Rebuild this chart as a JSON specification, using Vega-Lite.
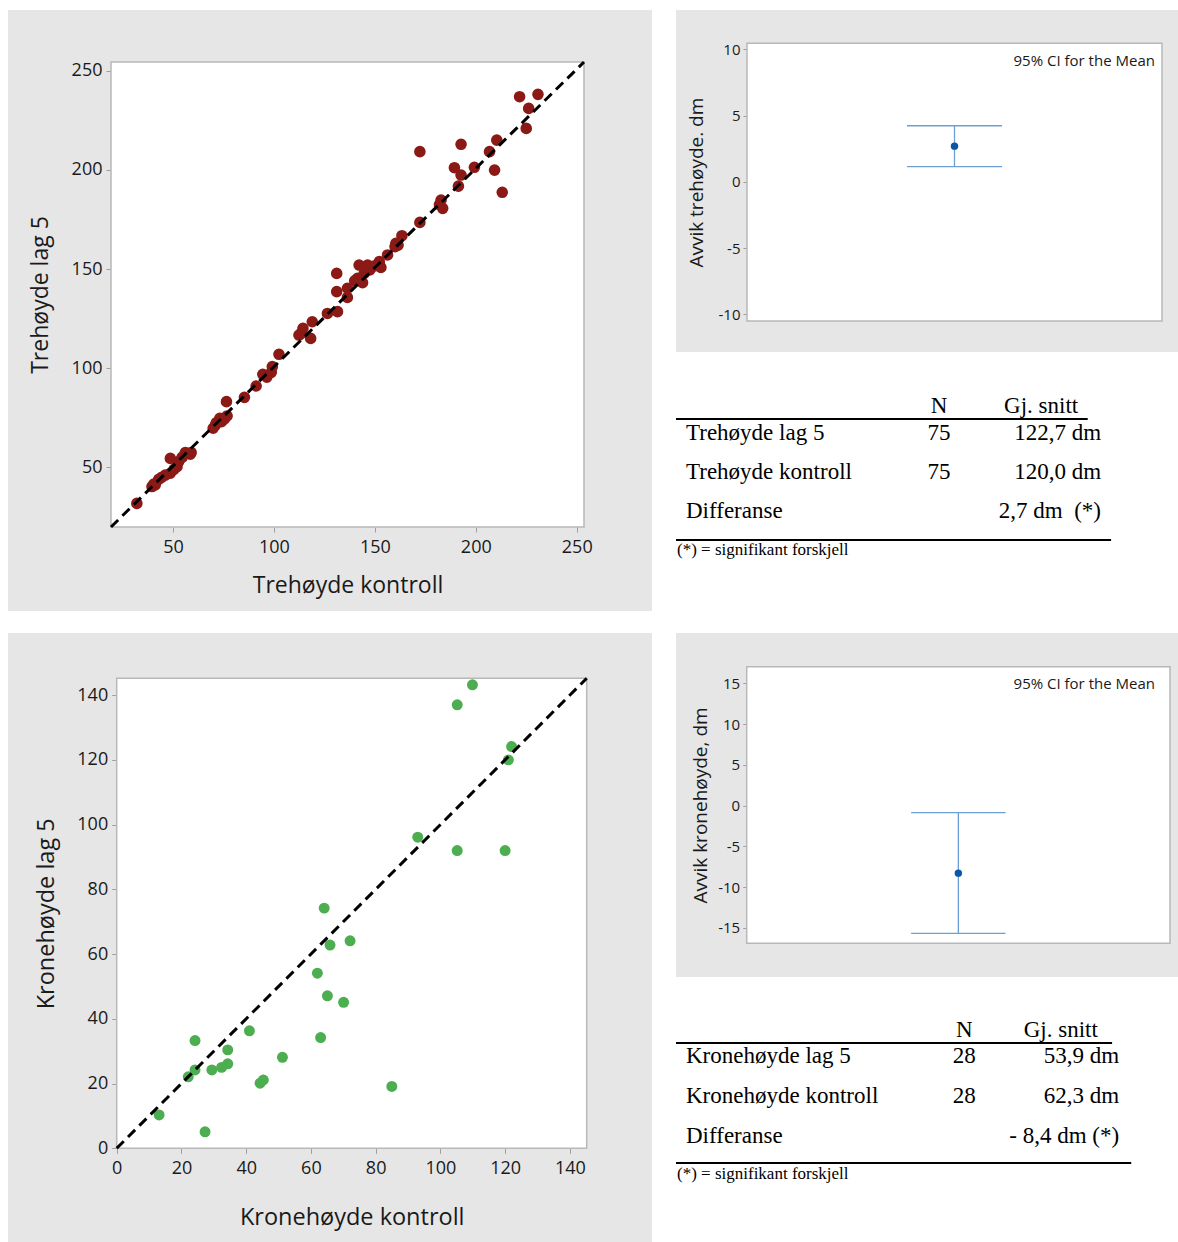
{
  "$schema": "https://vega.github.io/schema/vega-lite/v6.json",
  "background": "white",
  "padding": {"left": 8, "top": 10, "right": 0, "bottom": 0},
  "autosize": {"type": "pad"},
  "config": {
    "view": {"stroke": null},
    "font": "Open Sans",
    "axis": {"labelFont": "Open Sans", "titleFont": "Open Sans", "labelColor": "#1a1a1a", "titleColor": "#1a1a1a", "titleFontWeight": "normal", "domain": false, "grid": false, "tickColor": "#9e9e9e", "labelFlush": false, "labelExpr": "'' + datum.value"}
  },
  "datasets": {
    "trehoyde": [
      {"kontroll": 32.1, "lag5": 31.8}, {"kontroll": 39.6, "lag5": 40.3}, {"kontroll": 41.2, "lag5": 41.1}, {"kontroll": 42.9, "lag5": 43.9},
      {"kontroll": 46.2, "lag5": 46.1}, {"kontroll": 48.7, "lag5": 47.0}, {"kontroll": 48.7, "lag5": 54.5}, {"kontroll": 52.0, "lag5": 50.3},
      {"kontroll": 52.8, "lag5": 52.9}, {"kontroll": 56.1, "lag5": 57.4}, {"kontroll": 58.6, "lag5": 56.6}, {"kontroll": 69.9, "lag5": 69.7},
      {"kontroll": 71.0, "lag5": 71.3}, {"kontroll": 73.2, "lag5": 74.7}, {"kontroll": 75.5, "lag5": 74.4}, {"kontroll": 76.5, "lag5": 83.1},
      {"kontroll": 76.8, "lag5": 75.9}, {"kontroll": 85.4, "lag5": 85.3}, {"kontroll": 91.2, "lag5": 91.0}, {"kontroll": 94.5, "lag5": 96.9},
      {"kontroll": 98.7, "lag5": 97.9}, {"kontroll": 99.2, "lag5": 100.8}, {"kontroll": 102.5, "lag5": 107.0}, {"kontroll": 112.4, "lag5": 116.7},
      {"kontroll": 114.4, "lag5": 120.1}, {"kontroll": 118.2, "lag5": 115.0}, {"kontroll": 119.0, "lag5": 123.4}, {"kontroll": 126.5, "lag5": 127.6},
      {"kontroll": 131.5, "lag5": 128.5}, {"kontroll": 131.1, "lag5": 147.8}, {"kontroll": 131.1, "lag5": 138.6}, {"kontroll": 136.4, "lag5": 140.3},
      {"kontroll": 136.4, "lag5": 135.7}, {"kontroll": 141.4, "lag5": 145.3}, {"kontroll": 142.2, "lag5": 152.0}, {"kontroll": 143.9, "lag5": 143.1},
      {"kontroll": 144.7, "lag5": 147.8}, {"kontroll": 146.4, "lag5": 152.0}, {"kontroll": 152.2, "lag5": 153.7}, {"kontroll": 153.0, "lag5": 150.8},
      {"kontroll": 156.3, "lag5": 157.1}, {"kontroll": 160.0, "lag5": 161.3}, {"kontroll": 160.4, "lag5": 163.0}, {"kontroll": 163.4, "lag5": 166.8},
      {"kontroll": 172.3, "lag5": 173.5}, {"kontroll": 172.3, "lag5": 209.2}, {"kontroll": 182.8, "lag5": 184.8}, {"kontroll": 183.6, "lag5": 180.6},
      {"kontroll": 189.4, "lag5": 201.1}, {"kontroll": 191.4, "lag5": 191.8}, {"kontroll": 192.7, "lag5": 197.4}, {"kontroll": 192.7, "lag5": 212.9},
      {"kontroll": 199.3, "lag5": 201.3}, {"kontroll": 206.8, "lag5": 209.2}, {"kontroll": 209.3, "lag5": 199.9}, {"kontroll": 210.4, "lag5": 215.0},
      {"kontroll": 213.1, "lag5": 188.7}, {"kontroll": 221.7, "lag5": 236.9}, {"kontroll": 225.0, "lag5": 220.9}, {"kontroll": 226.2, "lag5": 231.0},
      {"kontroll": 230.8, "lag5": 238.1}, {"kontroll": 44.5, "lag5": 45.0}, {"kontroll": 50.5, "lag5": 49.0}, {"kontroll": 54.5, "lag5": 55.0},
      {"kontroll": 40.5, "lag5": 41.5}, {"kontroll": 71.5, "lag5": 72.5}, {"kontroll": 74.0, "lag5": 73.0}, {"kontroll": 96.5, "lag5": 95.5},
      {"kontroll": 113.5, "lag5": 117.5}, {"kontroll": 147.5, "lag5": 149.5}, {"kontroll": 149.5, "lag5": 151.5}, {"kontroll": 140.0, "lag5": 144.0},
      {"kontroll": 161.5, "lag5": 162.0}, {"kontroll": 182.0, "lag5": 182.5}, {"kontroll": 59.0, "lag5": 57.5}
    ],
    "krone": [
      {"kontroll": 13.1, "lag5": 10.3}, {"kontroll": 22.1, "lag5": 22.1}, {"kontroll": 24.2, "lag5": 24.2}, {"kontroll": 24.2, "lag5": 33.3},
      {"kontroll": 27.3, "lag5": 5.1}, {"kontroll": 29.4, "lag5": 24.2}, {"kontroll": 32.4, "lag5": 25.0}, {"kontroll": 34.3, "lag5": 26.1},
      {"kontroll": 34.3, "lag5": 30.4}, {"kontroll": 41.0, "lag5": 36.3}, {"kontroll": 44.3, "lag5": 20.1}, {"kontroll": 45.3, "lag5": 21.1},
      {"kontroll": 51.2, "lag5": 28.1}, {"kontroll": 62.0, "lag5": 54.1}, {"kontroll": 63.0, "lag5": 34.2}, {"kontroll": 64.1, "lag5": 74.2},
      {"kontroll": 65.9, "lag5": 62.8}, {"kontroll": 65.1, "lag5": 47.1}, {"kontroll": 70.1, "lag5": 45.1}, {"kontroll": 72.1, "lag5": 64.1},
      {"kontroll": 85.0, "lag5": 19.1}, {"kontroll": 93.0, "lag5": 96.1}, {"kontroll": 105.2, "lag5": 92.0}, {"kontroll": 105.2, "lag5": 137.0},
      {"kontroll": 109.9, "lag5": 143.2}, {"kontroll": 120.0, "lag5": 92.0}, {"kontroll": 121.0, "lag5": 120.0}, {"kontroll": 122.0, "lag5": 124.1}
    ],
    "ci_tre": [{"mean": 2.69, "lower": 1.15, "upper": 4.23}],
    "ci_krone": [{"mean": -8.3, "lower": -15.7, "upper": -0.88}],
    "hdr": [{"n": "N", "hdr": "Gj. snitt"}],
    "tab_tre": [
      {"row": 1, "label": "Trehøyde lag 5", "n": "75", "mean": "122,7 dm"},
      {"row": 2, "label": "Trehøyde kontroll", "n": "75", "mean": "120,0 dm"},
      {"row": 3, "label": "Differanse", "n": "", "mean": "2,7 dm\u00a0 (*)"}
    ],
    "tab_krone": [
      {"row": 1, "label": "Kronehøyde lag 5", "n": "28", "mean": "53,9 dm"},
      {"row": 2, "label": "Kronehøyde kontroll", "n": "28", "mean": "62,3 dm"},
      {"row": 3, "label": "Differanse", "n": "", "mean": "- 8,4 dm (*)"}
    ],
    "note": [{"note": "(*) = signifikant forskjell"}],
    "cilabel": [{"label": "95% CI for the Mean"}]
  },
  "hconcat": [
    {
      "vconcat": [
        {
          "width": 644, "height": 601,
          "view": {"fill": "#e6e6e6", "stroke": null},
          "layer": [
            {
              "data": {"values": [{}]},
              "mark": {"type": "rect", "fill": "white", "stroke": "#b8b8b8", "strokeWidth": 1.5},
              "encoding": {
                "x": {"datum": 19.3, "type": "quantitative", "scale": {"domain": [19.3, 253.6], "range": [103, 576], "nice": false, "zero": false}},
                "x2": {"datum": 253.6},
                "y": {"datum": 19.9, "type": "quantitative", "scale": {"domain": [19.9, 254.4], "range": [517, 52], "nice": false, "zero": false}},
                "y2": {"datum": 254.4}
              }
            },
            {
              "data": {"name": "trehoyde"},
              "mark": {"type": "circle", "size": 135, "color": "#8b1a16", "opacity": 1},
              "encoding": {
                "x": {"field": "kontroll", "type": "quantitative", "title": "Trehøyde kontroll",
                  "axis": {"values": [50, 100, 150, 200, 250], "offset": -84, "tickSize": 5, "labelFontSize": 18, "labelPadding": 6, "titleFontSize": 23, "titlePadding": 18}},
                "y": {"field": "lag5", "type": "quantitative", "title": "Trehøyde lag 5",
                  "axis": {"values": [50, 100, 150, 200, 250], "offset": -103, "tickSize": 5, "labelFontSize": 18, "labelPadding": 4, "titleFontSize": 23, "titlePadding": 19}}
              }
            },
            {
              "data": {"values": [{}]},
              "mark": {"type": "rule", "color": "black", "strokeWidth": 3, "strokeDash": [10, 6]},
              "encoding": {
                "x": {"datum": 19.3, "type": "quantitative"},
                "x2": {"datum": 253.6},
                "y": {"datum": 19.9, "type": "quantitative"},
                "y2": {"datum": 254.4}
              }
            }
          ]
        },
        {
          "width": 644, "height": 609,
          "view": {"fill": "#e6e6e6", "stroke": null},
          "layer": [
            {
              "data": {"values": [{}]},
              "mark": {"type": "rect", "fill": "white", "stroke": "#b8b8b8", "strokeWidth": 1.5},
              "encoding": {
                "x": {"datum": 0, "type": "quantitative", "scale": {"domain": [0, 145.2], "range": [108.7, 578.7], "nice": false, "zero": false}},
                "x2": {"datum": 145.2},
                "y": {"datum": 0, "type": "quantitative", "scale": {"domain": [0, 145.2], "range": [515.3, 45.3], "nice": false, "zero": false}},
                "y2": {"datum": 145.2}
              }
            },
            {
              "data": {"name": "krone"},
              "mark": {"type": "circle", "size": 120, "color": "#4cae50", "opacity": 1},
              "encoding": {
                "x": {"field": "kontroll", "type": "quantitative", "title": "Kronehøyde kontroll",
                  "axis": {"values": [0, 20, 40, 60, 80, 100, 120, 140], "offset": -93.7, "tickSize": 5, "labelFontSize": 18, "labelPadding": 6, "titleFontSize": 23.5, "titlePadding": 28}},
                "y": {"field": "lag5", "type": "quantitative", "title": "Kronehøyde lag 5",
                  "axis": {"values": [0, 20, 40, 60, 80, 100, 120, 140], "offset": -108.7, "tickSize": 5, "labelFontSize": 18, "labelPadding": 4, "titleFontSize": 23.5, "titlePadding": 18}}
              }
            },
            {
              "data": {"values": [{}]},
              "mark": {"type": "rule", "color": "black", "strokeWidth": 3, "strokeDash": [10, 6]},
              "encoding": {
                "x": {"datum": 0, "type": "quantitative"},
                "x2": {"datum": 145.2},
                "y": {"datum": 0, "type": "quantitative"},
                "y2": {"datum": 145.2}
              }
            }
          ]
        }
      ],
      "spacing": 22
    },
    {
      "vconcat": [
        {
          "width": 503, "height": 342,
          "view": {"fill": "#e6e6e6", "stroke": null},
          "layer": [
            {
              "data": {"values": [{}]},
              "mark": {"type": "rect", "fill": "white", "stroke": "#b8b8b8", "strokeWidth": 1.5},
              "encoding": {
                "x": {"datum": -1, "type": "quantitative", "scale": {"domain": [-1, 1], "range": [71, 486], "nice": false, "zero": false}, "axis": null},
                "x2": {"datum": 1},
                "y": {"datum": -10.5, "type": "quantitative", "scale": {"domain": [-10.5, 10.45], "range": [311, 33.3], "nice": false, "zero": false}},
                "y2": {"datum": 10.45}
              }
            },
            {
              "data": {"name": "cilabel"},
              "mark": {"type": "text", "align": "right", "baseline": "middle", "fontSize": 15, "font": "Open Sans", "color": "#1a1a1a"},
              "encoding": {
                "x": {"datum": 0.966, "type": "quantitative", "axis": null},
                "y": {"datum": 9.14, "type": "quantitative"},
                "text": {"field": "label"}
              }
            },
            {
              "data": {"name": "ci_tre"},
              "mark": {"type": "rule", "color": "#6c9fd3", "strokeWidth": 1.3},
              "encoding": {
                "x": {"datum": 0, "type": "quantitative", "axis": null},
                "y": {"field": "lower", "type": "quantitative"},
                "y2": {"field": "upper"}
              }
            },
            {
              "data": {"name": "ci_tre"},
              "mark": {"type": "rule", "color": "#6c9fd3", "strokeWidth": 1.3},
              "encoding": {
                "x": {"datum": -0.229, "type": "quantitative", "axis": null},
                "x2": {"datum": 0.229},
                "y": {"field": "upper", "type": "quantitative"}
              }
            },
            {
              "data": {"name": "ci_tre"},
              "mark": {"type": "rule", "color": "#6c9fd3", "strokeWidth": 1.3},
              "encoding": {
                "x": {"datum": -0.229, "type": "quantitative", "axis": null},
                "x2": {"datum": 0.229},
                "y": {"field": "lower", "type": "quantitative"}
              }
            },
            {
              "data": {"name": "ci_tre"},
              "mark": {"type": "circle", "size": 55, "color": "#0b57a4", "opacity": 1},
              "encoding": {
                "x": {"datum": 0, "type": "quantitative", "axis": null},
                "y": {"field": "mean", "type": "quantitative", "title": "Avvik trehøyde. dm",
                  "axis": {"values": [-10, -5, 0, 5, 10], "offset": -71, "tickSize": 4, "labelFontSize": 15, "labelPadding": 3, "titleFontSize": 19, "titlePadding": 12}}
              }
            }
          ]
        },
        {
          "width": 503, "height": 281,
          "layer": [
            {
              "data": {"name": "tab_tre"},
              "mark": {"type": "text", "align": "left", "baseline": "middle", "font": "Liberation Serif", "fontSize": 23, "color": "black"},
              "encoding": {
                "x": {"datum": 0.0199, "type": "quantitative", "scale": {"domain": [0, 1], "range": [0, 503]}, "axis": null},
                "y": {"field": "row", "type": "quantitative", "scale": {"domain": [1, 3], "range": [81, 159], "zero": false, "nice": false}, "axis": null},
                "text": {"field": "label"}
              }
            },
            {
              "data": {"name": "tab_tre"},
              "mark": {"type": "text", "align": "center", "baseline": "middle", "font": "Liberation Serif", "fontSize": 23, "color": "black"},
              "encoding": {
                "x": {"datum": 0.523, "type": "quantitative", "axis": null},
                "y": {"field": "row", "type": "quantitative", "axis": null},
                "text": {"field": "n"}
              }
            },
            {
              "data": {"name": "tab_tre"},
              "mark": {"type": "text", "align": "right", "baseline": "middle", "font": "Liberation Serif", "fontSize": 23, "color": "black"},
              "encoding": {
                "x": {"datum": 0.845, "type": "quantitative", "axis": null},
                "y": {"field": "row", "type": "quantitative", "axis": null},
                "text": {"field": "mean"}
              }
            },
            {
              "data": {"name": "hdr"},
              "mark": {"type": "text", "align": "center", "baseline": "middle", "font": "Liberation Serif", "fontSize": 23, "color": "black"},
              "encoding": {
                "x": {"datum": 0.523, "type": "quantitative", "axis": null},
                "y": {"datum": 0.308, "type": "quantitative", "axis": null},
                "text": {"field": "n"}
              }
            },
            {
              "data": {"name": "hdr"},
              "mark": {"type": "text", "align": "center", "baseline": "middle", "font": "Liberation Serif", "fontSize": 23, "color": "black"},
              "encoding": {
                "x": {"datum": 0.726, "type": "quantitative", "axis": null},
                "y": {"datum": 0.308, "type": "quantitative", "axis": null},
                "text": {"field": "hdr"}
              }
            },
            {
              "data": {"name": "note"},
              "mark": {"type": "text", "align": "left", "baseline": "middle", "font": "Liberation Serif", "fontSize": 17, "color": "black"},
              "encoding": {
                "x": {"datum": 0.002, "type": "quantitative", "axis": null},
                "y": {"datum": 4.0, "type": "quantitative", "axis": null},
                "text": {"field": "note"}
              }
            },
            {
              "data": {"values": [{}]},
              "mark": {"type": "rule", "color": "black", "strokeWidth": 2},
              "encoding": {
                "x": {"datum": 0, "type": "quantitative", "axis": null},
                "x2": {"datum": 0.8185},
                "y": {"datum": 0.641, "type": "quantitative", "axis": null}
              }
            },
            {
              "data": {"values": [{}]},
              "mark": {"type": "rule", "color": "black", "strokeWidth": 2},
              "encoding": {
                "x": {"datum": 0, "type": "quantitative", "axis": null},
                "x2": {"datum": 0.865},
                "y": {"datum": 3.744, "type": "quantitative", "axis": null}
              }
            }
          ]
        },
        {
          "width": 503, "height": 344,
          "view": {"fill": "#e6e6e6", "stroke": null},
          "layer": [
            {
              "data": {"values": [{}]},
              "mark": {"type": "rect", "fill": "white", "stroke": "#b8b8b8", "strokeWidth": 1.5},
              "encoding": {
                "x": {"datum": -1, "type": "quantitative", "scale": {"domain": [-1, 1], "range": [70.7, 494], "nice": false, "zero": false}, "axis": null},
                "x2": {"datum": 1},
                "y": {"datum": -16.91, "type": "quantitative", "scale": {"domain": [-16.91, 17.04], "range": [310.3, 33.7], "nice": false, "zero": false}},
                "y2": {"datum": 17.04}
              }
            },
            {
              "data": {"name": "cilabel"},
              "mark": {"type": "text", "align": "right", "baseline": "middle", "fontSize": 15, "font": "Open Sans", "color": "#1a1a1a"},
              "encoding": {
                "x": {"datum": 0.929, "type": "quantitative", "axis": null},
                "y": {"datum": 14.95, "type": "quantitative"},
                "text": {"field": "label"}
              }
            },
            {
              "data": {"name": "ci_krone"},
              "mark": {"type": "rule", "color": "#6c9fd3", "strokeWidth": 1.3},
              "encoding": {
                "x": {"datum": 0, "type": "quantitative", "axis": null},
                "y": {"field": "lower", "type": "quantitative"},
                "y2": {"field": "upper"}
              }
            },
            {
              "data": {"name": "ci_krone"},
              "mark": {"type": "rule", "color": "#6c9fd3", "strokeWidth": 1.3},
              "encoding": {
                "x": {"datum": -0.223, "type": "quantitative", "axis": null},
                "x2": {"datum": 0.223},
                "y": {"field": "upper", "type": "quantitative"}
              }
            },
            {
              "data": {"name": "ci_krone"},
              "mark": {"type": "rule", "color": "#6c9fd3", "strokeWidth": 1.3},
              "encoding": {
                "x": {"datum": -0.223, "type": "quantitative", "axis": null},
                "x2": {"datum": 0.223},
                "y": {"field": "lower", "type": "quantitative"}
              }
            },
            {
              "data": {"name": "ci_krone"},
              "mark": {"type": "circle", "size": 55, "color": "#0b57a4", "opacity": 1},
              "encoding": {
                "x": {"datum": 0, "type": "quantitative", "axis": null},
                "y": {"field": "mean", "type": "quantitative", "title": "Avvik kronehøyde, dm",
                  "axis": {"values": [-15, -10, -5, 0, 5, 10, 15], "offset": -70.7, "tickSize": 4, "labelFontSize": 15, "labelPadding": 3, "titleFontSize": 19, "titlePadding": 7}}
              }
            }
          ]
        },
        {
          "width": 503, "height": 265,
          "layer": [
            {
              "data": {"name": "tab_krone"},
              "mark": {"type": "text", "align": "left", "baseline": "middle", "font": "Liberation Serif", "fontSize": 23, "color": "black"},
              "encoding": {
                "x": {"datum": 0.0199, "type": "quantitative", "scale": {"domain": [0, 1], "range": [0, 503]}, "axis": null},
                "y": {"field": "row", "type": "quantitative", "scale": {"domain": [1, 3], "range": [79, 159], "zero": false, "nice": false}, "axis": null},
                "text": {"field": "label"}
              }
            },
            {
              "data": {"name": "tab_krone"},
              "mark": {"type": "text", "align": "center", "baseline": "middle", "font": "Liberation Serif", "fontSize": 23, "color": "black"},
              "encoding": {
                "x": {"datum": 0.573, "type": "quantitative", "axis": null},
                "y": {"field": "row", "type": "quantitative", "axis": null},
                "text": {"field": "n"}
              }
            },
            {
              "data": {"name": "tab_krone"},
              "mark": {"type": "text", "align": "right", "baseline": "middle", "font": "Liberation Serif", "fontSize": 23, "color": "black"},
              "encoding": {
                "x": {"datum": 0.881, "type": "quantitative", "axis": null},
                "y": {"field": "row", "type": "quantitative", "axis": null},
                "text": {"field": "mean"}
              }
            },
            {
              "data": {"name": "hdr"},
              "mark": {"type": "text", "align": "center", "baseline": "middle", "font": "Liberation Serif", "fontSize": 23, "color": "black"},
              "encoding": {
                "x": {"datum": 0.573, "type": "quantitative", "axis": null},
                "y": {"datum": 0.35, "type": "quantitative", "axis": null},
                "text": {"field": "n"}
              }
            },
            {
              "data": {"name": "hdr"},
              "mark": {"type": "text", "align": "center", "baseline": "middle", "font": "Liberation Serif", "fontSize": 23, "color": "black"},
              "encoding": {
                "x": {"datum": 0.765, "type": "quantitative", "axis": null},
                "y": {"datum": 0.35, "type": "quantitative", "axis": null},
                "text": {"field": "hdr"}
              }
            },
            {
              "data": {"name": "note"},
              "mark": {"type": "text", "align": "left", "baseline": "middle", "font": "Liberation Serif", "fontSize": 17, "color": "black"},
              "encoding": {
                "x": {"datum": 0.002, "type": "quantitative", "axis": null},
                "y": {"datum": 3.95, "type": "quantitative", "axis": null},
                "text": {"field": "note"}
              }
            },
            {
              "data": {"values": [{}]},
              "mark": {"type": "rule", "color": "black", "strokeWidth": 2},
              "encoding": {
                "x": {"datum": 0, "type": "quantitative", "axis": null},
                "x2": {"datum": 0.867},
                "y": {"datum": 0.675, "type": "quantitative", "axis": null}
              }
            },
            {
              "data": {"values": [{}]},
              "mark": {"type": "rule", "color": "black", "strokeWidth": 2},
              "encoding": {
                "x": {"datum": 0, "type": "quantitative", "axis": null},
                "x2": {"datum": 0.905},
                "y": {"datum": 3.675, "type": "quantitative", "axis": null}
              }
            }
          ]
        }
      ],
      "spacing": 0
    }
  ],
  "spacing": 23
}
